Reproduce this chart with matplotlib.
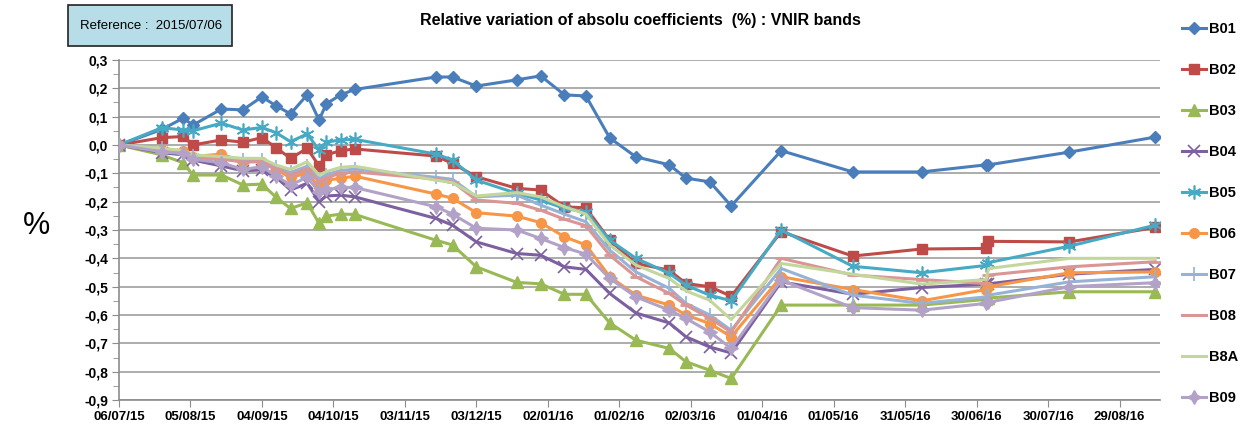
"""
Relative variation of absolute calibration coefficients, VNIR bands.
Values read by eye from the reference chart.
"""

import numpy as np
import pandas as pd
import matplotlib
matplotlib.use("Agg")
import matplotlib.pyplot as plt
import matplotlib.dates as mdates
from matplotlib.patches import Rectangle
from matplotlib.ticker import MultipleLocator, FuncFormatter

plt.rcParams["font.family"] = ["Liberation Sans", "DejaVu Sans"]

# ── data ──────────────────────────────────────────────────────────────────────
DATES = ["2015-07-06", "2015-07-24", "2015-08-02", "2015-08-06", "2015-08-18",
         "2015-08-27", "2015-09-04", "2015-09-10", "2015-09-16", "2015-09-23",
         "2015-09-28", "2015-10-01", "2015-10-07", "2015-10-13", "2015-11-16",
         "2015-11-23", "2015-12-03", "2015-12-20", "2015-12-30", "2016-01-09",
         "2016-01-18", "2016-01-28", "2016-02-08", "2016-02-22", "2016-02-29",
         "2016-03-10", "2016-03-19", "2016-04-09", "2016-05-09", "2016-06-07",
         "2016-07-04", "2016-07-05", "2016-08-08", "2016-09-13"]

B01 = [0, 0.055, 0.095, 0.07, 0.127, 0.124, 0.17, 0.138, 0.11, 0.177, 0.088,
       0.145, 0.177, 0.196, 0.24, 0.24, 0.208, 0.23, 0.244, 0.177, 0.173,
       0.025, -0.042, -0.07, -0.117, -0.13, -0.215, -0.02, -0.095, -0.095,
       -0.07, -0.07, -0.025, 0.028]
B02 = [0, 0.026, 0.03, 0.0, 0.018, 0.01, 0.026, -0.01, -0.047, -0.012, -0.074,
       -0.035, -0.02, -0.014, -0.039, -0.065, -0.112, -0.153, -0.159, -0.218,
       -0.222, -0.336, -0.418, -0.442, -0.489, -0.5, -0.534, -0.306, -0.392,
       -0.367, -0.365, -0.34, -0.342, -0.291]
B03 = [0, -0.035, -0.063, -0.106, -0.106, -0.141, -0.138, -0.185, -0.224,
       -0.204, -0.277, -0.251, -0.244, -0.245, -0.336, -0.353, -0.43, -0.485,
       -0.49, -0.527, -0.527, -0.628, -0.689, -0.718, -0.765, -0.795, -0.824,
       -0.565, -0.565, -0.565, -0.545, -0.54, -0.518, -0.518]
B04 = [0, -0.027, -0.035, -0.053, -0.074, -0.091, -0.088, -0.114, -0.159,
       -0.135, -0.2, -0.18, -0.177, -0.183, -0.259, -0.283, -0.342, -0.383,
       -0.389, -0.43, -0.439, -0.524, -0.593, -0.628, -0.677, -0.713, -0.734,
       -0.483, -0.527, -0.503, -0.491, -0.49, -0.456, -0.439]
B05 = [0, 0.061, 0.053, 0.05, 0.077, 0.053, 0.062, 0.043, 0.012, 0.039,
       -0.018, 0.01, 0.018, 0.02, -0.032, -0.053, -0.124, -0.171, -0.194,
       -0.224, -0.236, -0.336, -0.4, -0.453, -0.495, -0.53, -0.55, -0.3,
       -0.428, -0.451, -0.425, -0.415, -0.357, -0.283]
B06 = [0, -0.018, -0.021, -0.041, -0.032, -0.059, -0.059, -0.088, -0.114,
       -0.1, -0.147, -0.124, -0.118, -0.11, -0.173, -0.188, -0.239, -0.251,
       -0.274, -0.324, -0.353, -0.465, -0.53, -0.565, -0.6, -0.63, -0.677,
       -0.465, -0.51, -0.55, -0.51, -0.5, -0.451, -0.448]
B07 = [0, -0.012, -0.022, -0.04, -0.045, -0.052, -0.052, -0.078, -0.097,
       -0.075, -0.12, -0.105, -0.09, -0.085, -0.114, -0.121, -0.183, -0.177,
       -0.212, -0.244, -0.271, -0.371, -0.448, -0.506, -0.559, -0.6, -0.654,
       -0.436, -0.53, -0.559, -0.536, -0.53, -0.483, -0.465]
B08 = [0, -0.015, -0.025, -0.045, -0.05, -0.06, -0.058, -0.085, -0.105,
       -0.085, -0.13, -0.115, -0.1, -0.095, -0.12, -0.13, -0.194, -0.206,
       -0.23, -0.262, -0.285, -0.389, -0.465, -0.524, -0.565, -0.612, -0.66,
       -0.4, -0.459, -0.475, -0.489, -0.459, -0.43, -0.412]
B8A = [0, -0.012, -0.02, -0.035, -0.041, -0.047, -0.047, -0.071, -0.086,
       -0.059, -0.106, -0.094, -0.079, -0.075, -0.124, -0.133, -0.18, -0.168,
       -0.183, -0.218, -0.244, -0.353, -0.424, -0.471, -0.515, -0.548, -0.616,
       -0.418, -0.456, -0.491, -0.475, -0.436, -0.4, -0.4]
B09 = [0, -0.024, -0.03, -0.05, -0.063, -0.086, -0.077, -0.11, -0.141,
       -0.114, -0.165, -0.157, -0.15, -0.15, -0.218, -0.244, -0.294, -0.3,
       -0.33, -0.362, -0.385, -0.471, -0.536, -0.583, -0.612, -0.66, -0.718,
       -0.477, -0.574, -0.583, -0.559, -0.555, -0.5, -0.486]

BANDS = ["B01", "B02", "B03", "B04", "B05", "B06", "B07", "B08", "B8A", "B09"]
VALUES = [B01, B02, B03, B04, B05, B06, B07, B08, B8A, B09]

# ── styles (Excel 2010 palette) ───────────────────────────────────────────────
STYLE = {
    "B01": dict(color="#4A7EBB", marker="D", ms=6),
    "B02": dict(color="#BE4B48", marker="s", ms=7),
    "B03": dict(color="#98B954", marker="^", ms=8),
    "B04": dict(color="#7D60A0", marker="x", ms=8, mew=1.2),
    "B05": dict(color="#46AAC5", marker=(6, 2, 0), ms=10, mew=1.2),
    "B06": dict(color="#F79646", marker="o", ms=7),
    "B07": dict(color="#95B3D7", marker="|", ms=10, mew=1.2),
    "B08": dict(color="#D99694", marker="_", ms=8, mew=2),
    "B8A": dict(color="#C3D69B", marker="None", ms=0),
    "B09": dict(color="#B3A2C7", marker=(4, 1, 0), ms=10),
}

W, H = 1248, 433
fig = plt.figure(figsize=(W / 100, H / 100), dpi=100)
ax = fig.add_axes([119 / W, 1 - 400 / H, (1160 - 119) / W, 340 / H])

x = pd.to_datetime(DATES)
for band, vals in zip(BANDS, VALUES):
    st = STYLE[band]
    ax.plot(x, vals, color=st["color"], lw=2.2, marker=st["marker"],
            ms=st["ms"], mew=st.get("mew", 1), mec=st["color"], mfc=st["color"],
            label=band, zorder=3)

# ── axes ──────────────────────────────────────────────────────────────────────
start = pd.Timestamp("2015-07-06")
ax.set_xlim(start, start + pd.Timedelta(days=437))
ax.set_ylim(-0.9, 0.3)

xticks = [start + pd.Timedelta(days=30 * i) for i in range(15)]
ax.set_xticks(xticks)
ax.xaxis.set_major_formatter(mdates.DateFormatter("%d/%m/%y"))

ax.yaxis.set_major_locator(MultipleLocator(0.1))
ax.yaxis.set_minor_locator(MultipleLocator(0.05))
ax.yaxis.set_major_formatter(
    FuncFormatter(lambda v, p: f"{v:.1f}".replace(".", ",").replace("-0,0", "0,0")))

ax.grid(axis="y", which="major", color="#A6A6A6", lw=1.3, zorder=0)
for s in ("top", "right"):
    ax.spines[s].set_visible(False)
for s in ("left", "bottom"):
    ax.spines[s].set_color("#8C8C8C")
    ax.spines[s].set_linewidth(1.2)

ax.tick_params(axis="both", which="both", direction="out", color="#8C8C8C")
ax.tick_params(axis="y", which="major", length=5, labelsize=10, pad=3)
ax.tick_params(axis="y", which="minor", length=4)
ax.tick_params(axis="x", length=5, labelsize=9.5, pad=3)
for lab in ax.get_xticklabels() + ax.get_yticklabels():
    lab.set_fontweight("bold")

# ── texts ─────────────────────────────────────────────────────────────────────
fig.text(640 / W, 1 - 21 / H,
         "Relative variation of absolu coefficients  (%) : VNIR bands",
         ha="center", va="center", fontsize=11.5, fontweight="bold")
fig.text(37 / W, 1 - 226 / H, "%", ha="center", va="center", fontsize=22)

box = Rectangle((68 / W, 1 - 46 / H), (232 - 68) / W, 41 / H,
                transform=fig.transFigure, facecolor="#B7DEE8",
                edgecolor="#222222", lw=1.2)
fig.patches.append(box)
fig.text(80 / W, 1 - 26 / H, "Reference :  2015/07/06",
         ha="left", va="center", fontsize=9.5)

handles, labels = ax.get_legend_handles_labels()
fig.legend(handles, labels, loc="upper left",
           bbox_to_anchor=(1175 / W, 1 - 15 / H), frameon=False,
           handlelength=1.6, handletextpad=0.25,
           labelspacing=1.85, borderpad=0,
           prop={"weight": "bold", "size": 10.5})

fig.savefig("out.png", dpi=100)
